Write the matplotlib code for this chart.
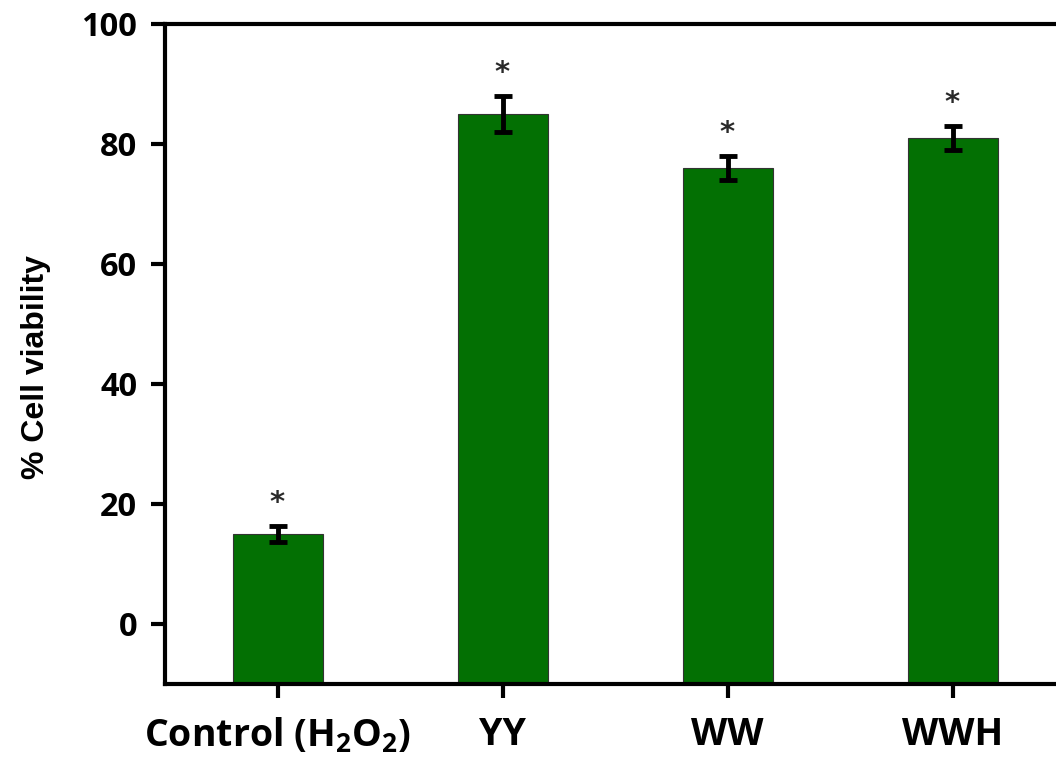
import numpy as np
import matplotlib
matplotlib.use("Agg")
import matplotlib.pyplot as plt

plt.rcParams["mathtext.fontset"] = "custom"
plt.rcParams["mathtext.rm"] = "Open Sans:bold"
plt.rcParams["mathtext.it"] = "Open Sans:bold"
plt.rcParams["mathtext.bf"] = "Open Sans:bold"

groups = ["Control (H$_2$O$_2$)", "YY", "WW", "WWH"]
viability = [15, 85, 76, 81]
errors = [1.3, 3.0, 2.0, 2.0]
stars = ["*", "*", "*", "*"]

green = "#037003"
ymin, ymax = -10, 100

fig = plt.figure(figsize=(10.56, 7.59), dpi=100)
ax = fig.add_axes([165/1056, 1 - 684/759, 900/1056, 660/759])

x = np.arange(len(groups))
# bars start at the bottom of the axis, not at zero
ax.bar(x, np.array(viability) - ymin, bottom=ymin, width=0.4, color=green,
       edgecolor="#333333", linewidth=0.8, zorder=2)
ax.errorbar(x, viability, yerr=errors, fmt="none", ecolor="black",
            elinewidth=3.5, capsize=6.5, capthick=3.5, zorder=3)
for xi, v, e, s in zip(x, viability, errors, stars):
    ax.text(xi, v + e + 3.8, s, ha="center", va="center", fontsize=21,
            color="#2a2a2a", family="DejaVu Sans", fontweight="bold")

ax.set_xlim(-0.5, 3.5)
ax.set_ylim(ymin, ymax)
ax.set_yticks([0, 20, 40, 60, 80, 100])
ax.set_xticks(x)
ax.set_xticklabels(groups)

for side in ["left", "bottom", "top"]:
    ax.spines[side].set_linewidth(3)
ax.spines["right"].set_visible(False)

ax.tick_params(axis="y", direction="out", length=10, width=3, pad=10)
ax.tick_params(axis="x", direction="out", length=10, width=3, pad=13)
for lbl in ax.get_yticklabels():
    lbl.set_fontfamily("Open Sans")
    lbl.set_fontweight("bold")
    lbl.set_fontsize(23.5)
for lbl in ax.get_xticklabels():
    lbl.set_fontfamily("Open Sans")
    lbl.set_fontweight("bold")
    lbl.set_fontsize(27)

ax.set_ylabel("% Cell viability", fontsize=23, fontweight="bold",
              family="Liberation Sans")
ax.yaxis.set_label_coords(-0.127, 0.48)

fig.savefig("out.png", dpi=100)
